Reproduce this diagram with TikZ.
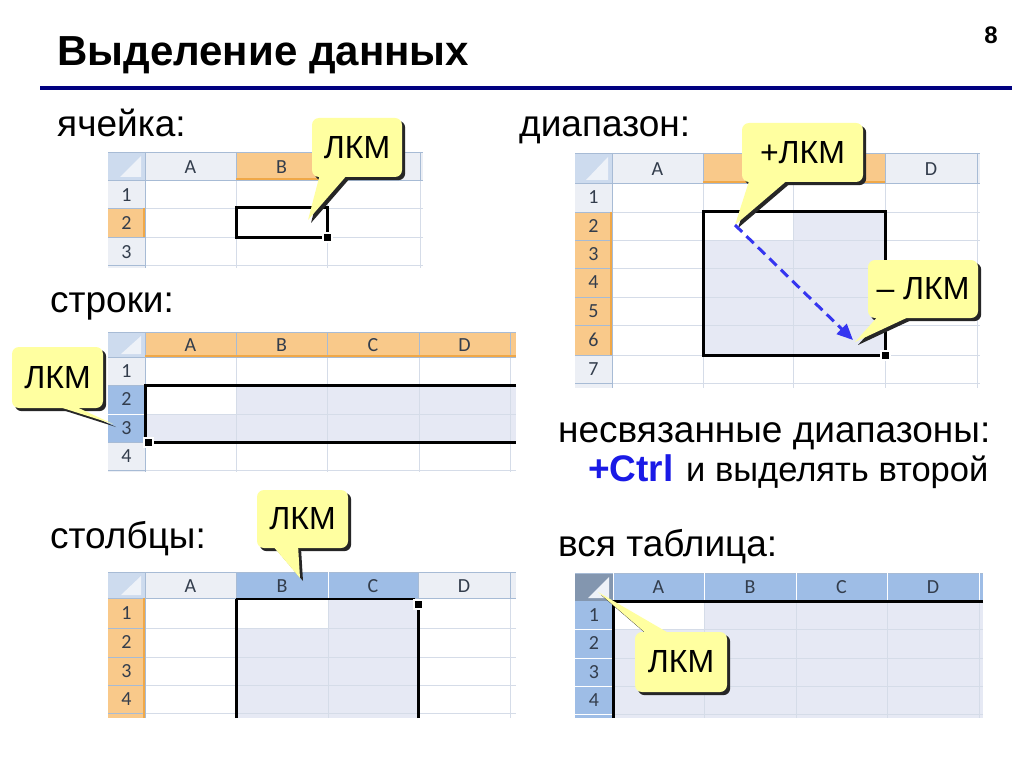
\documentclass[tikz,border=0pt]{standalone}
\usepackage{fontspec}
\setmainfont{Liberation Sans}
\newfontfamily\cellfont{Carlito}
\usetikzlibrary{arrows.meta}
\definecolor{hdr}{HTML}{ECEFF5}
\definecolor{hdrline}{HTML}{A7BBD5}
\definecolor{gridc}{HTML}{D5DCE8}
\definecolor{orhdr}{HTML}{F9C98A}
\definecolor{orline}{HTML}{F0A848}
\definecolor{bluehdr}{HTML}{9EBDE6}
\definecolor{selfill}{HTML}{E6E9F4}
\definecolor{hdrtext}{HTML}{333D4C}
\definecolor{cornerc}{HTML}{CDDBEE}
\definecolor{cornertri}{HTML}{EEF2F8}
\definecolor{cornerdark}{HTML}{8396AF}
\definecolor{callyellow}{HTML}{FFFFA0}
\definecolor{titleline}{HTML}{000080}
\definecolor{arrowblue}{HTML}{3535F0}
\definecolor{ctrlblue}{HTML}{1A1AE6}
\pgfdeclarelayer{sheet}
\pgfdeclarelayer{shadow}
\pgfsetlayers{sheet,shadow,main}
\tikzset{
  hdrtxt/.style={font=\cellfont\fontsize{20}{20}\selectfont, text=hdrtext, inner sep=0pt},
  gridline/.style={draw=gridc, line width=0.8pt},
  hline/.style={draw=hdrline, line width=0.8pt},
  wline/.style={draw=white, line width=1pt},
  selborder/.style={draw=black, line width=3pt},
  txtlbl/.style={font=\fontsize{37}{42}\selectfont, anchor=base west, inner sep=0pt},
  callbox/.style={fill=callyellow, rounded corners=7pt, inner sep=0pt, font=\fontsize{32}{36}\selectfont},
  shadowfill/.style={fill=black!85},
  dasharrow/.style={draw=arrowblue, line width=3pt, dash pattern=on 10pt off 6pt, -{Triangle[length=16pt,width=14pt]}}
}
% #1 name, #2 centre, #3 width, #4 height, #5 text, #6 base offset 1, #7 base offset 2, #8 tip
\newcommand\mycallout[8]{%
  \node[callbox, minimum width=#3pt, minimum height=#4pt] (#1) at (#2) {#5};
  \coordinate (#1-b1) at ([shift={(#6)}]#1.center);
  \coordinate (#1-b2) at ([shift={(#7)}]#1.center);
  \begin{pgfonlayer}{shadow}
    \fill[shadowfill, rounded corners=7pt] ([shift={(3,3)}]#1.north west) rectangle ([shift={(3,3)}]#1.south east);
    \fill[shadowfill] ([shift={(3,3)}]#1-b1) -- ([shift={(3,3)}]#1-b2) -- ([shift={(3,3)}]#8) -- cycle;
  \end{pgfonlayer}
  \fill[callyellow] (#1-b1) -- (#1-b2) -- (#8) -- cycle;
}
\begin{document}
\begin{tikzpicture}[x=1pt,y=-1pt]
\useasboundingbox (0,0) rectangle (1024,767);

% title
\node[font=\bfseries\fontsize{42}{48}\selectfont, anchor=base west, inner sep=0pt] (title) at (57,66) {Выделение данных};
\node[font=\bfseries\fontsize{24}{28}\selectfont, anchor=base east, inner sep=0pt] (pagenum) at (998,44) {8};
\fill[titleline] (40,86) rectangle (1012,90);

% labels
\node[txtlbl] (lcell) at (57,137) {ячейка:};
\node[txtlbl] (lrange) at (519,137) {диапазон:};
\node[txtlbl] (lrows) at (50,312) {строки:};
\node[txtlbl] (lnon) at (558,442) {несвязанные диапазоны:};
\node[txtlbl, text=ctrlblue, font=\bfseries\fontsize{37}{42}\selectfont] (lctrl) at (588,481) {+Ctrl};
\node[txtlbl, font=\fontsize{34.5}{40}\selectfont] (lctrl2) at (686,481) {и выделять второй};
\node[txtlbl] (lcols) at (50,548) {столбцы:};
\node[txtlbl] (lall) at (558,556) {вся таблица:};

\begin{pgfonlayer}{sheet}
\fill[white] (0,0) rectangle (1024,767);
% ---------- sheet 1 : cell ----------
\fill[white] (108,152) rectangle (423,268);
\fill[hdr] (108,152) rectangle (423,180);
\fill[hdr] (108,180) rectangle (145,268);
\fill[orhdr] (236,152) rectangle (327,180);
\fill[orhdr] (108,208) rectangle (145,237);
\fill[cornerc] (108,152) rectangle (145,180);
\fill[cornertri] (141,156) -- (141,177) -- (120,177) -- cycle;
\draw[gridline] foreach \y in {208,237,265} {(145,\y) -- (423,\y)};
\draw[gridline] foreach \x in {236,327,420} {(\x,180) -- (\x,268)};
\draw[hline] (108,152) -- (423,152) (108,180) -- (423,180) (145,152) -- (145,268);
\draw[hline] foreach \x in {236,327,420} {(\x,152) -- (\x,180)};
\draw[hline] foreach \y in {208,237,265} {(108,\y) -- (145,\y)};
\draw[orline, line width=1.5pt] (236,179) -- (327,179) (144,208) -- (144,237);
\node[hdrtxt] (s1A) at (190.5,167) {A};
\node[hdrtxt] (s1B) at (281.5,167) {B};
\node[hdrtxt] (s1r1) at (126.5,195) {1};
\node[hdrtxt] (s1r2) at (126.5,223) {2};
\node[hdrtxt] (s1r3) at (126.5,252) {3};
\draw[selborder] (236,208) rectangle (327,237);
\fill[white] (322,232) rectangle (333,243);
\fill[black] (324,234) rectangle (331,241);

% ---------- sheet 2 : range ----------
\fill[white] (575,153) rectangle (980,388);
\fill[selfill] (703,212) rectangle (885,355);
\fill[white] (703,212) rectangle (793,240);
\fill[hdr] (575,153) rectangle (980,183);
\fill[hdr] (575,183) rectangle (612,388);
\fill[orhdr] (703,153) rectangle (885,183);
\fill[orhdr] (575,212) rectangle (612,355);
\fill[cornerc] (575,153) rectangle (612,183);
\fill[cornertri] (608,157) -- (608,180) -- (586,180) -- cycle;
\draw[gridline] foreach \y in {212,240,268,297,325,355,383} {(612,\y) -- (980,\y)};
\draw[gridline] foreach \x in {703,793,885,977} {(\x,183) -- (\x,388)};
\draw[hline] (575,153) -- (980,153) (575,183) -- (980,183) (612,153) -- (612,388);
\draw[hline] foreach \x in {703,793,885,977} {(\x,153) -- (\x,183)};
\draw[hline] foreach \y in {212,240,268,297,325,355,383} {(575,\y) -- (612,\y)};
\draw[orline, line width=1.5pt] (703,182) -- (885,182) (611,212) -- (611,355);
\node[hdrtxt] (s2A) at (657.5,169) {A};
\node[hdrtxt] (s2D) at (931,169) {D};
\foreach \n/\y in {1/197.5,2/226,3/254,4/282.5,5/311,6/340,7/369}
  \node[hdrtxt] (s2r\n) at (593.5,\y) {\n};
\draw[selborder] (703,212) rectangle (885,355);
\fill[white] (880,350) rectangle (891,361);
\fill[black] (882,352) rectangle (889,359);

% ---------- sheet 3 : rows ----------
\fill[white] (108,332) rectangle (516,472);
\fill[selfill] (145,385) rectangle (516,442);
\fill[white] (145,385) rectangle (236,414);
\fill[hdr] (108,332) rectangle (516,357);
\fill[hdr] (108,357) rectangle (145,472);
\fill[orhdr] (145,332) rectangle (516,357);
\fill[bluehdr] (108,385) rectangle (145,442);
\fill[cornerc] (108,332) rectangle (145,357);
\fill[cornertri] (141,336) -- (141,354) -- (121,354) -- cycle;
\draw[gridline] foreach \y in {385,414,442,470} {(145,\y) -- (516,\y)};
\draw[gridline] foreach \x in {236,327,419,510} {(\x,357) -- (\x,472)};
\draw[hline] (108,332) -- (516,332) (108,357) -- (516,357) (145,332) -- (145,472);
\draw[hline] foreach \x in {236,327,419,510} {(\x,332) -- (\x,357)};
\draw[hline] foreach \y in {385,442,470} {(108,\y) -- (145,\y)};
\draw[wline] (108,414) -- (145,414);
\draw[orline, line width=1.5pt] (145,356) -- (516,356);
\node[hdrtxt] (s3A) at (190.5,345) {A};
\node[hdrtxt] (s3B) at (281.5,345) {B};
\node[hdrtxt] (s3C) at (373,345) {C};
\node[hdrtxt] (s3D) at (464.5,345) {D};
\foreach \n/\y in {1/371,2/399.5,3/428,4/456}
  \node[hdrtxt] (s3r\n) at (126.5,\y) {\n};
\draw[selborder] (516,385) -- (145,385) -- (145,442) -- (516,442);
\fill[white] (143,437) rectangle (154,448);
\fill[black] (145,439) rectangle (152,446);

% ---------- sheet 4 : columns ----------
\fill[white] (108,572) rectangle (516,718);
\fill[selfill] (236,598) rectangle (418,718);
\fill[white] (236,598) rectangle (328,628);
\fill[hdr] (108,572) rectangle (516,598);
\fill[hdr] (108,598) rectangle (145,718);
\fill[bluehdr] (236,572) rectangle (418,598);
\fill[orhdr] (108,598) rectangle (145,718);
\fill[cornerc] (108,572) rectangle (145,598);
\fill[cornertri] (141,576) -- (141,595) -- (121,595) -- cycle;
\draw[gridline] foreach \y in {628,657,685,713} {(145,\y) -- (516,\y)};
\draw[gridline] foreach \x in {236,328,418,510} {(\x,598) -- (\x,718)};
\draw[hline] (108,572) -- (516,572) (108,598) -- (516,598) (145,572) -- (145,718);
\draw[hline] foreach \x in {236,418,510} {(\x,572) -- (\x,598)};
\draw[wline] (328,572) -- (328,598);
\draw[hline] foreach \y in {628,657,685,713} {(108,\y) -- (145,\y)};
\draw[orline, line width=1.5pt] (144,598) -- (144,718);
\node[hdrtxt] (s4A) at (190.5,586) {A};
\node[hdrtxt] (s4B) at (282,586) {B};
\node[hdrtxt] (s4C) at (373,586) {C};
\node[hdrtxt] (s4D) at (464,586) {D};
\foreach \n/\y in {1/613,2/642.5,3/671,4/699}
  \node[hdrtxt] (s4r\n) at (126.5,\y) {\n};
\draw[selborder] (236,718) -- (236,599) (418,718) -- (418,606);
\draw[black, line width=1.5pt] (236,599) -- (415,599);
\fill[white] (413,599) rectangle (424,610);
\fill[black] (415,601) rectangle (422,608);

% ---------- sheet 5 : whole table ----------
\fill[selfill] (613,601) rectangle (983,718);
\fill[white] (613,601) rectangle (704,629);
\fill[bluehdr] (575,573) rectangle (983,601);
\fill[bluehdr] (575,601) rectangle (613,718);
\fill[cornerdark] (575,573) rectangle (613,601);
\fill[cornertri] (609,577) -- (609,598) -- (588,598) -- cycle;
\draw[gridline] foreach \y in {629,658,686,714} {(613,\y) -- (983,\y)};
\draw[gridline] foreach \x in {704,796,887,979} {(\x,601) -- (\x,718)};
\draw[hline] (575,573) -- (983,573);
\draw[wline] foreach \x in {613,704,796,887,979} {(\x,573) -- (\x,601)};
\draw[wline] foreach \y in {629,658,686,714} {(575,\y) -- (613,\y)};
\node[hdrtxt] (s5A) at (658.5,587) {A};
\node[hdrtxt] (s5B) at (750,587) {B};
\node[hdrtxt] (s5C) at (841.5,587) {C};
\node[hdrtxt] (s5D) at (933,587) {D};
\foreach \n/\y in {1/615,2/643.5,3/672,4/700}
  \node[hdrtxt] (s5r\n) at (594,\y) {\n};
\draw[selborder] (983,601) -- (613,601) -- (613,718);
\end{pgfonlayer}

% ---------- callouts ----------
\coordinate (t1) at (308,220);
\mycallout{c1}{357,147.5}{90}{59}{ЛКМ}{-37,26.5}{-9,26.5}{t1}

\coordinate (t2) at (735,225);
\mycallout{c2}{802.5,152.5}{121}{59}{+ЛКМ}{-52.5,25.5}{-12.5,25.5}{t2}

\coordinate (t3) at (855,342);
\mycallout{c3}{923,289}{110}{58}{– ЛКМ}{-43,25}{-8,25}{t3}

\coordinate (t4) at (113,424);
\mycallout{c4}{57.5,377.5}{91}{61}{ЛКМ}{-7.5,26.5}{12.5,26.5}{t4}

\coordinate (t5) at (300,578);
\mycallout{c5}{302.5,519}{91}{58}{ЛКМ}{-30.5,26}{-4.5,26}{t5}

\coordinate (t6) at (598,592);
\mycallout{c6}{681,662}{92}{60}{ЛКМ}{-33,-27}{-9,-27}{t6}

% dashed drag arrow
\coordinate (dragend) at (853,340);
\draw[dasharrow] (t2) -- (dragend);
\end{tikzpicture}
\end{document}
